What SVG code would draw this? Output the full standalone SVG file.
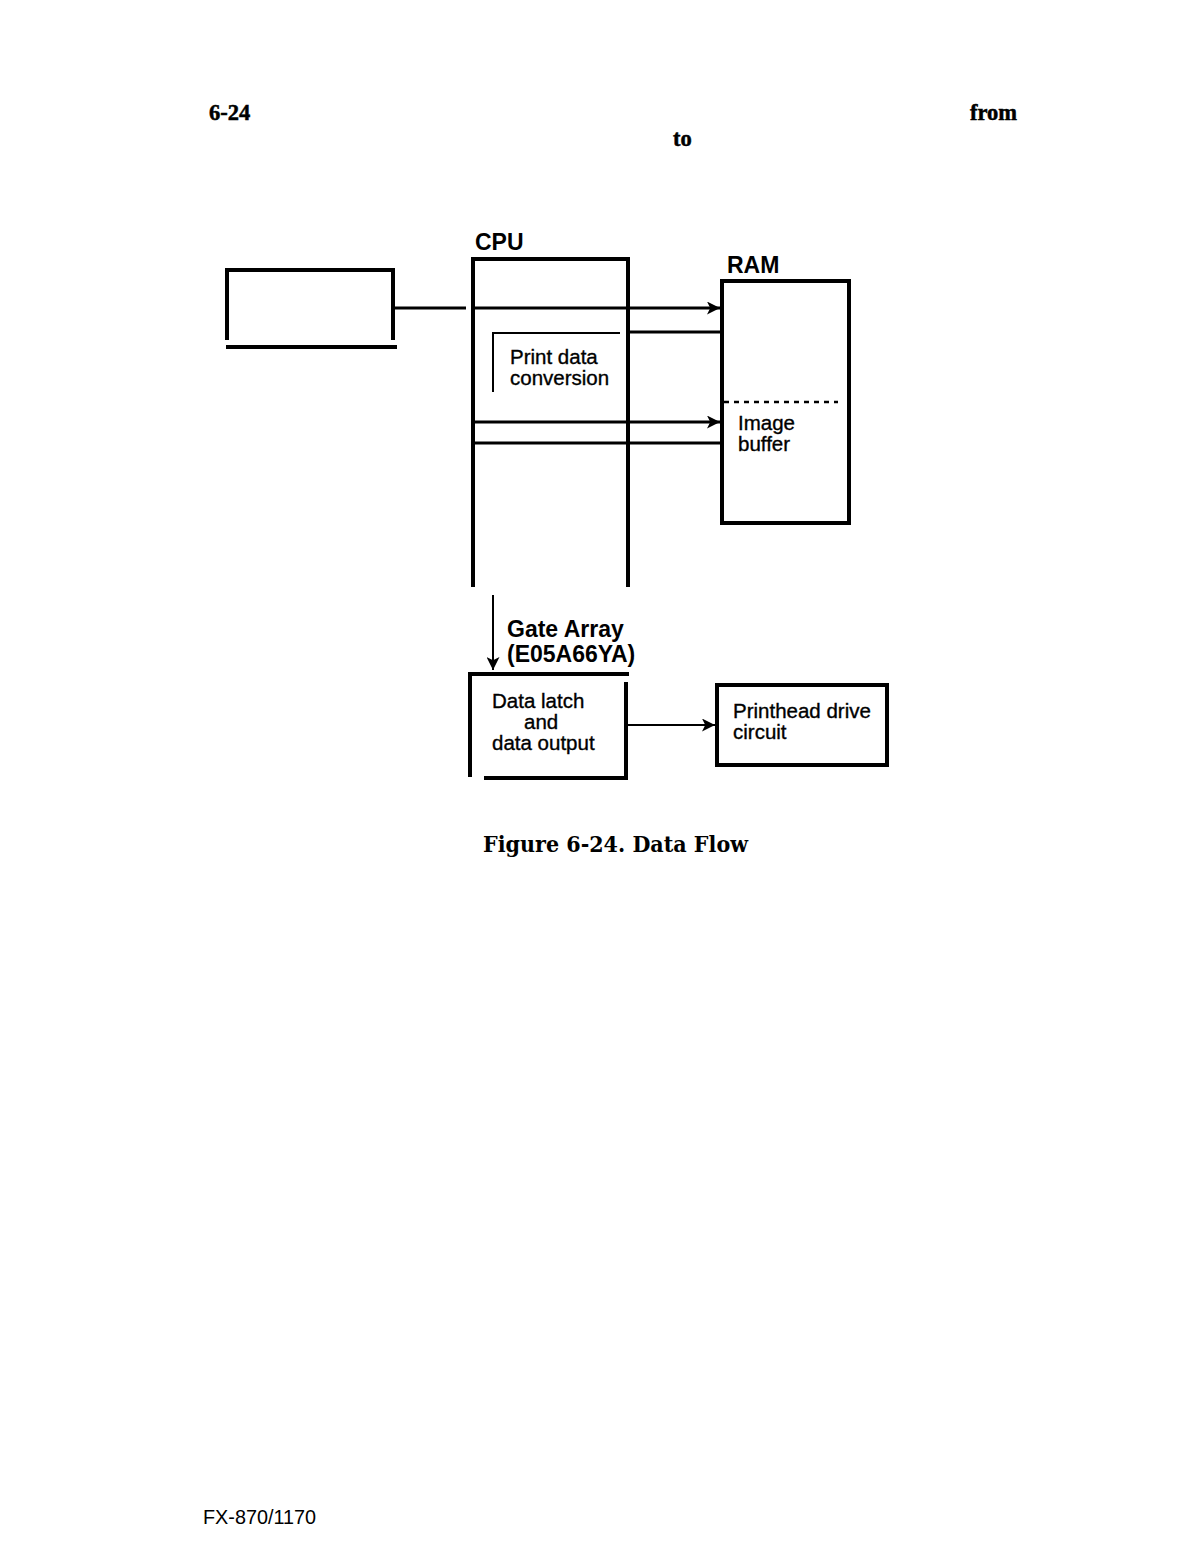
<svg xmlns="http://www.w3.org/2000/svg" width="1200" height="1560" viewBox="0 0 1200 1560">
<style>
.box{fill:none;stroke:#000;stroke-width:4;stroke-linecap:square}
.ln{fill:none;stroke:#000;stroke-width:3}
.thin{fill:none;stroke:#000;stroke-width:2}
.lbl{font-family:"Liberation Sans",Arial,sans-serif;font-size:20.5px;fill:#000;stroke:#000;stroke-width:0.35}
.ttl{font-family:"Liberation Sans",Arial,sans-serif;font-size:23px;font-weight:bold;fill:#000}
.ser{font-family:"Liberation Serif","Times New Roman",serif;font-weight:bold;fill:#000;stroke:#000;stroke-width:0.5}
</style>
<defs>
<marker id="ahb" viewBox="0 0 10 10" refX="10" refY="5" markerWidth="20" markerHeight="13" markerUnits="userSpaceOnUse" orient="auto">
<path d="M0,0 L10,5 L0,10 L2.5,5 Z" fill="#000"/>
</marker>
</defs>
<rect width="1200" height="1560" fill="#fff"/>
<text class="ser" x="209" y="120" font-size="22.5">6-24</text>
<text class="ser" x="970" y="120" font-size="22.5">from</text>
<text class="ser" x="673" y="146" font-size="22.5">to</text>

<g id="source">
<path class="box" d="M227,338 V270 H393 V338"/>
<path class="box" d="M228,347 H395"/>
</g>

<g id="cpu">
<text class="ttl" x="475" y="250">CPU</text>
<path class="box" d="M473,585 V259 H628 V585"/>
<g id="print-data-conversion">
<path class="thin" d="M493,392 V333 H620"/>
<text class="lbl" x="510" y="364">Print data</text>
<text class="lbl" x="510" y="385">conversion</text>
</g>
</g>

<g id="ram">
<text class="ttl" x="727" y="273">RAM</text>
<rect class="box" x="722" y="281" width="127" height="242"/>
<path d="M724,402 H838" fill="none" stroke="#000" stroke-width="2.5" stroke-dasharray="5,5"/>
<text class="lbl" x="738" y="430">Image</text>
<text class="lbl" x="738" y="451">buffer</text>
</g>

<g id="gate-array">
<text class="ttl" x="507" y="637">Gate Array</text>
<text class="ttl" x="507" y="662">(E05A66YA)</text>
<path class="box" d="M470,775 V674 H627"/>
<path class="box" d="M626,684 V778 H486"/>
<text class="lbl" x="492" y="708">Data latch</text>
<text class="lbl" x="524" y="729">and</text>
<text class="lbl" x="492" y="750">data output</text>
</g>

<g id="printhead">
<rect class="box" x="717" y="685" width="170" height="80"/>
<text class="lbl" x="733" y="718">Printhead drive</text>
<text class="lbl" x="733" y="739">circuit</text>
</g>

<g id="connectors">
<path class="ln" d="M395,308 H466"/>
<path class="ln" d="M473,308 H720" marker-end="url(#ahb)"/>
<path class="ln" d="M628,332 H722"/>
<path class="ln" d="M473,422 H720" marker-end="url(#ahb)"/>
<path class="ln" d="M473,443 H722"/>
<path class="thin" d="M493,595 V670" marker-end="url(#ahb)"/>
<path class="thin" d="M628,725 H715" marker-end="url(#ahb)"/>
</g>

<text x="483" y="852" font-family="'DejaVu Serif','Liberation Serif',serif" font-weight="bold" font-size="22" textLength="265" lengthAdjust="spacingAndGlyphs">Figure 6-24. Data Flow</text>
<text x="203" y="1524" font-family="'Liberation Sans',Arial,sans-serif" font-size="20" textLength="113" lengthAdjust="spacingAndGlyphs">FX-870/1170</text>
</svg>
